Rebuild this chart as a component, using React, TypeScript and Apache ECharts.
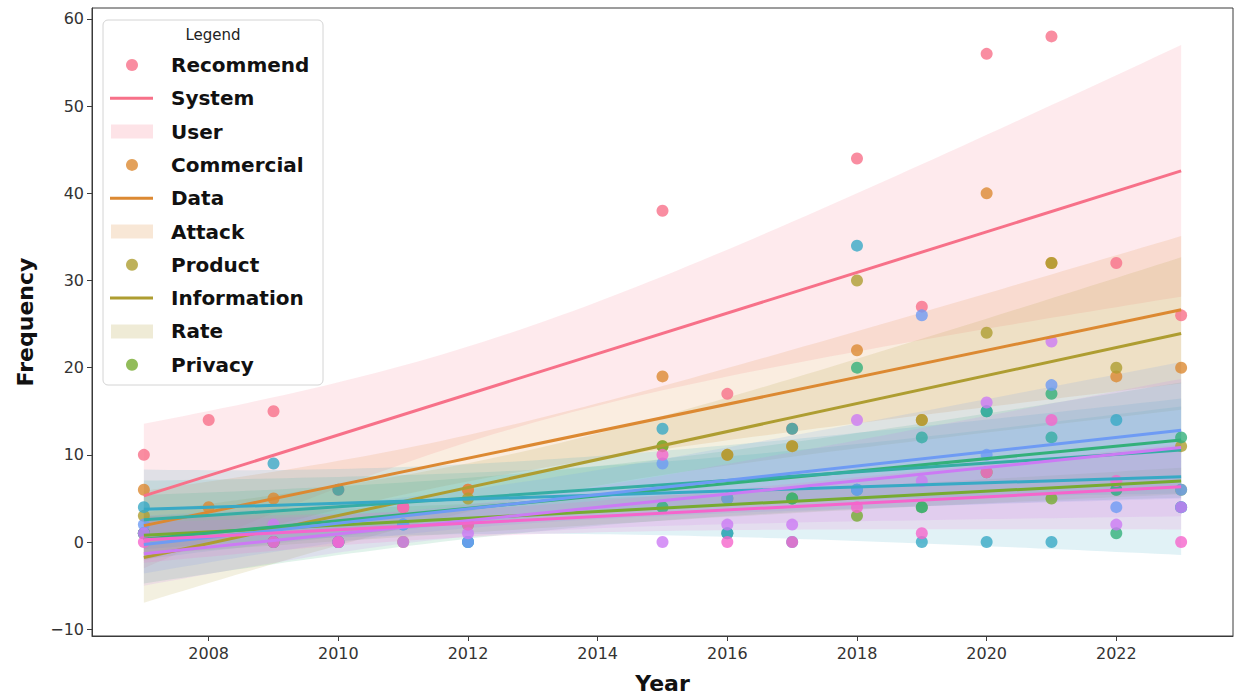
import React, { useEffect, useRef } from "react";
import * as echarts from "echarts";

// ---- data ----
const years = [2007, 2008, 2009, 2010, 2011, 2012, 2015, 2016, 2017, 2018, 2019, 2020, 2021, 2022, 2023];

const recommend = [10, 14, 15, 6, 4, 6, 38, 17, 13, 44, 27, 56, 58, 32, 26];
const system = [6, 4, 5, null, 4, 6, 19, 10, 11, 22, 14, 40, 32, 19, 20];
const user = [3, null, 0, 0, 0, 5, 11, 10, 11, 30, 14, 24, 32, 20, 11];
const commercial = [1, null, 0, 0, null, 2, 11, 5, 5, 3, 4, 8, 5, 6, 6];
const dataWord = [1, null, null, null, null, null, 4, 1, 5, 20, 4, 15, 17, 1, 12];
const attack = [1, null, null, 6, null, 0, null, null, 13, 6, 12, 15, 12, 6, 4];
const product = [4, null, 9, 0, 2, 0, 13, 1, 0, 34, 0, 0, 0, 14, 4];
const information = [2, null, 0, 0, 2, 0, 9, 5, null, 6, 26, 10, 18, 4, 6];
const rate = [1, null, 2, 0, 0, 1, 0, 2, 2, 14, 7, 16, 23, 2, 4];
const privacy = [0, null, 0, 0, 4, 2, 10, 0, 0, 4, 1, 8, 14, 7, 0];

const words = ["Recommend", "System", "User", "Commercial", "Data", "Attack", "Product", "Information", "Rate", "Privacy"];
const wordValues = [recommend, system, user, commercial, dataWord, attack, product, information, rate, privacy];
const palette = ["#f77189", "#dc8932", "#ae9d31", "#77ab31", "#33b07a", "#36ada4", "#38a9c5", "#6e9bf4", "#cc7af4", "#f565cc"];

const xTicks = [2008, 2010, 2012, 2014, 2016, 2018, 2020, 2022];
const yTicks = [-10, 0, 10, 20, 30, 40, 50, 60];

const FONT = "DejaVu Sans";

function rgba(hex: string, a: number) {
  const r = parseInt(hex.slice(1, 3), 16);
  const g = parseInt(hex.slice(3, 5), 16);
  const b = parseInt(hex.slice(5, 7), 16);
  return `rgba(${r},${g},${b},${a})`;
}

// ordinary least squares fit with a heteroscedasticity-consistent 95% band
function regress(vals: (number | null)[]) {
  const xs: number[] = [];
  const ys: number[] = [];
  vals.forEach((v, i) => {
    if (v !== null && v !== undefined) {
      xs.push(years[i]);
      ys.push(v);
    }
  });
  const n = xs.length;
  const mx = xs.reduce((s, v) => s + v, 0) / n;
  const my = ys.reduce((s, v) => s + v, 0) / n;
  let sxx = 0;
  let sxy = 0;
  for (let i = 0; i < n; i++) {
    sxx += (xs[i] - mx) * (xs[i] - mx);
    sxy += (xs[i] - mx) * (ys[i] - my);
  }
  const b = sxy / sxx;
  const a = my - b * mx;
  const res = xs.map((x, i) => ys[i] - (a + b * x));
  const xmin = Math.min(...xs);
  const xmax = Math.max(...xs);
  const half = (x0: number) => {
    let v = 0;
    for (let i = 0; i < n; i++) {
      const w = 1 / n + ((x0 - mx) * (xs[i] - mx)) / sxx;
      v += w * w * res[i] * res[i];
    }
    v *= n / (n - 2);
    return 1.96 * Math.sqrt(v);
  };
  const upper: number[][] = [];
  const lower: number[][] = [];
  const steps = 80;
  for (let k = 0; k <= steps; k++) {
    const x = xmin + ((xmax - xmin) * k) / steps;
    const y = a + b * x;
    const h = half(x);
    upper.push([x, y + h]);
    lower.push([x, y - h]);
  }
  const poly = upper.concat(lower.reverse());
  return {
    points: xs.map((x, i) => [x, ys[i]]),
    line: [
      [xmin, a + b * xmin],
      [xmax, a + b * xmax],
    ],
    poly,
  };
}

export default function App() {
  const ref = useRef<HTMLDivElement>(null);

  useEffect(() => {
    if (!ref.current) return;
    const chart = echarts.init(ref.current, undefined, { renderer: "svg" });

    const fits = wordValues.map((v) => regress(v));
    const series: any[] = [];
    fits.forEach((f, i) => {
      series.push({
        type: "scatter",
        name: words[i] + " points",
        data: f.points,
        symbolSize: 12,
        itemStyle: { color: palette[i], opacity: 0.8 },
        z: 2,
        silent: true,
      });
      series.push({
        type: "custom",
        name: words[i] + " band",
        data: [[f.line[0][0], f.line[0][1]]],
        z: 2,
        silent: true,
        renderItem: (params: any, api: any) => ({
          type: "polygon",
          shape: { points: f.poly.map((p) => api.coord(p)) },
          style: { fill: rgba(palette[i], 0.15), stroke: null },
        }),
      });
    });
    fits.forEach((f, i) => {
      series.push({
        type: "line",
        name: words[i] + " fit",
        data: f.line,
        symbol: "none",
        lineStyle: { color: palette[i], width: 3 },
        z: 3,
        silent: true,
      });
    });

    // legend (reproducing the handles of the reference, in order)
    const legendChildren: any[] = [];
    legendChildren.push({
      type: "rect",
      shape: { x: 103, y: 20, width: 220, height: 365, r: 5 },
      style: { fill: "rgba(255,255,255,0.85)", stroke: "#d4d4d4", lineWidth: 1 },
    });
    legendChildren.push({
      type: "text",
      x: 213,
      y: 35,
      style: { text: "Legend", font: `15px '${FONT}'`, fill: "#222", align: "center", verticalAlign: "middle" },
    });
    words.forEach((w, i) => {
      const y = 65 + i * 33.3;
      const color = palette[Math.floor(i / 3)];
      const kind = i % 3;
      if (kind === 0) {
        legendChildren.push({
          type: "circle",
          shape: { cx: 132, cy: y, r: 6 },
          style: { fill: color, opacity: 0.8 },
        });
      } else if (kind === 1) {
        legendChildren.push({
          type: "line",
          shape: { x1: 110, y1: y, x2: 153, y2: y },
          style: { stroke: color, lineWidth: 3 },
        });
      } else {
        legendChildren.push({
          type: "rect",
          shape: { x: 111, y: y - 7, width: 42, height: 14 },
          style: { fill: rgba(color, 0.2) },
        });
      }
      legendChildren.push({
        type: "text",
        x: 171,
        y,
        style: { text: w, font: `bold 20px '${FONT}'`, fill: "#111", verticalAlign: "middle" },
      });
    });

    chart.setOption({
      animation: false,
      backgroundColor: "#ffffff",
      grid: {
        left: 92,
        right: 1,
        top: 8,
        bottom: 64,
        show: true,
        borderColor: "#3a3a3a",
        borderWidth: 1,
        containLabel: false,
      },
      xAxis: {
        type: "value",
        min: 2006.2,
        max: 2023.8,
        name: "Year",
        nameLocation: "middle",
        nameGap: 36,
        nameTextStyle: { fontFamily: FONT, fontSize: 22, fontWeight: "bold", color: "#111" },
        axisLine: { show: true, onZero: false, lineStyle: { color: "#3a3a3a", width: 1 } },
        axisTick: { show: true, customValues: xTicks, length: 5, lineStyle: { color: "#3a3a3a" } },
        axisLabel: {
          customValues: xTicks,
          fontFamily: FONT,
          fontSize: 16,
          color: "#333",
          margin: 9,
          formatter: (v: number) => String(v),
        },
        splitLine: { show: false },
      },
      yAxis: {
        type: "value",
        min: -10.78,
        max: 61.26,
        name: "Frequency",
        nameLocation: "middle",
        nameGap: 56,
        nameRotate: 90,
        nameTextStyle: { fontFamily: FONT, fontSize: 22, fontWeight: "bold", color: "#111" },
        axisLine: { show: true, onZero: false, lineStyle: { color: "#3a3a3a", width: 1 } },
        axisTick: { show: true, customValues: yTicks, length: 5, lineStyle: { color: "#3a3a3a" } },
        axisLabel: {
          customValues: yTicks,
          fontFamily: FONT,
          fontSize: 16,
          color: "#333",
          margin: 8,
          formatter: (v: number) => (v < 0 ? "\u2212" + Math.abs(v) : String(v)),
        },
        splitLine: { show: false },
      },
      series,
      graphic: [{ type: "group", z: 100, children: legendChildren }],
    });

    return () => chart.dispose();
  }, []);

  return (
    <div
      ref={ref}
      style={{ position: "fixed", left: 0, top: 0, width: 1234, height: 700, background: "#fff" }}
    />
  );
}
